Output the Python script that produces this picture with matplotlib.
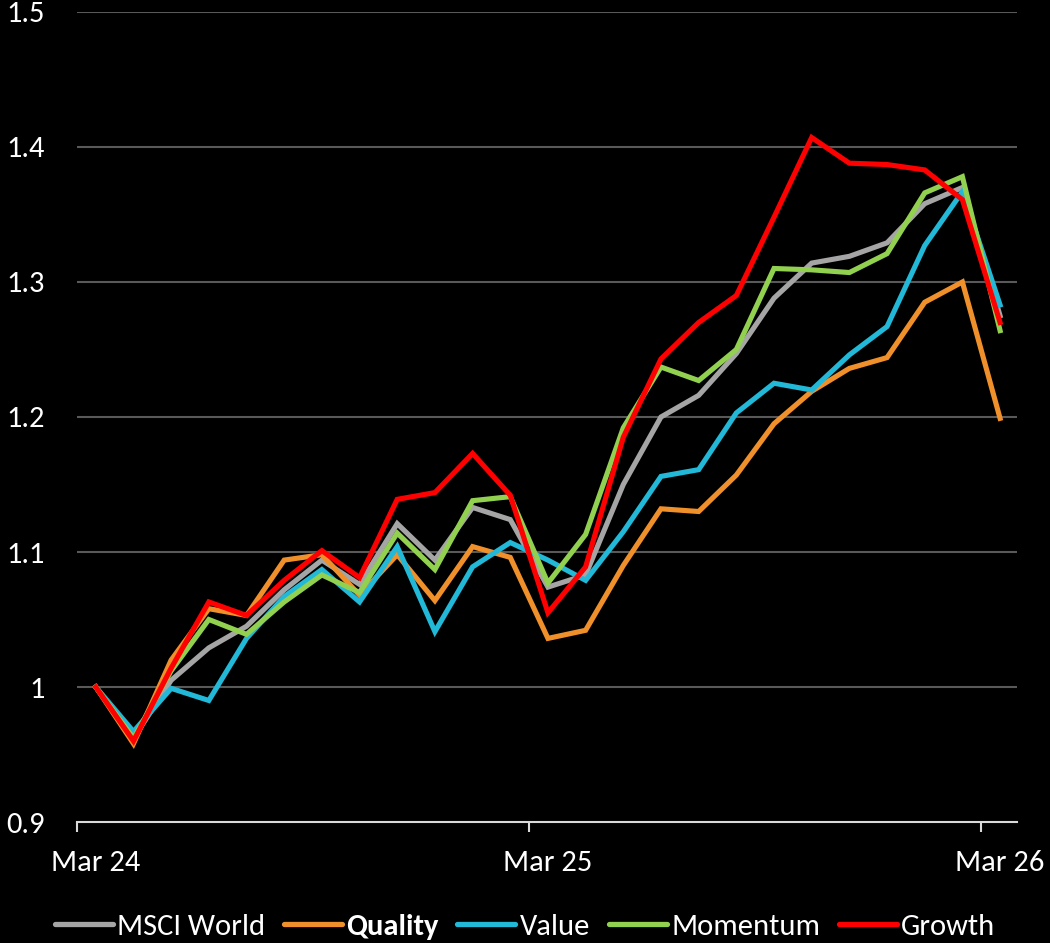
import matplotlib.pyplot as plt
from matplotlib.lines import Line2D

# indice mensal, Mar 24 a Mar 26 (base 1 = Mar 24)
meses = list(range(25))
rotulos_x = ["Mar 24", "Mar 25", "Mar 26"]
pos_rotulos = [0, 12, 24]
pos_marcas = [-0.5, 11.5, 23.5]

msci_world = [1.000, 0.962, 1.005, 1.029, 1.045, 1.072, 1.094, 1.076, 1.121, 1.094, 1.133, 1.124,
              1.074, 1.083, 1.150, 1.200, 1.216, 1.247, 1.288, 1.314, 1.319, 1.329, 1.358, 1.370, 1.275]
quality = [1.000, 0.958, 1.020, 1.058, 1.053, 1.094, 1.098, 1.068, 1.098, 1.064, 1.104, 1.096,
           1.036, 1.042, 1.090, 1.132, 1.130, 1.157, 1.195, 1.219, 1.236, 1.244, 1.285, 1.300, 1.199]
value = [1.000, 0.967, 0.999, 0.990, 1.036, 1.067, 1.087, 1.063, 1.104, 1.041, 1.089, 1.107,
         1.094, 1.079, 1.115, 1.156, 1.161, 1.203, 1.225, 1.220, 1.246, 1.267, 1.327, 1.367, 1.283]
momentum = [1.000, 0.962, 1.012, 1.050, 1.039, 1.063, 1.083, 1.070, 1.114, 1.087, 1.138, 1.141,
            1.077, 1.113, 1.192, 1.237, 1.227, 1.250, 1.310, 1.309, 1.307, 1.321, 1.366, 1.378, 1.264]
growth = [1.000, 0.960, 1.014, 1.063, 1.053, 1.079, 1.101, 1.081, 1.139, 1.144, 1.173, 1.142,
          1.055, 1.089, 1.185, 1.243, 1.270, 1.290, 1.348, 1.407, 1.388, 1.387, 1.383, 1.361, 1.270]

nomes = ["MSCI World", "Quality", "Value", "Momentum", "Growth"]
series = [msci_world, quality, value, momentum, growth]
cores = ["#A5A5A5", "#F0902A", "#22B8D8", "#92D050", "#FF0000"]

plt.rcParams['font.family'] = ['Carlito', 'Liberation Sans', 'DejaVu Sans']

fig = plt.figure(figsize=(10.5, 9.43), dpi=100, facecolor="black")
ax = fig.add_axes([0.0733, 0.1283, 0.8953, 0.859], facecolor="black")

for s, c in zip(series, cores):
    ax.plot(meses, s, color=c, linewidth=3.7, solid_joinstyle="miter")

ax.set_xlim(-0.5, 24.45)
ax.set_ylim(0.9, 1.5)
ax.set_yticks([0.9, 1.0, 1.1, 1.2, 1.3, 1.4, 1.5])
ax.set_yticklabels(["0.9", "1", "1.1", "1.2", "1.3", "1.4", "1.5"])

# marcas no inicio de cada ano, rotulos sobre o ponto do mes
ax.set_xticks(pos_marcas)
ax.set_xticklabels([])
ax.set_xticks(pos_rotulos, minor=True)
ax.set_xticklabels(rotulos_x, minor=True)

# linhas de grade horizontais
for y in [1.0, 1.1, 1.2, 1.3, 1.4, 1.5]:
    ax.axhline(y, color="#595959", linewidth=1.5, zorder=0)

for lado in ["top", "right", "left"]:
    ax.spines[lado].set_visible(False)
ax.spines["bottom"].set_color("#D9D9D9")
ax.spines["bottom"].set_linewidth(1.5)

ax.tick_params(axis="y", length=0, pad=23, labelsize=22, labelcolor="white")
ax.tick_params(axis="x", which="major", length=7, width=1.5, color="#D9D9D9")
ax.tick_params(axis="x", which="minor", length=0, pad=20, labelsize=22, labelcolor="white")

# legenda embaixo, com "Quality" em negrito
handles = [Line2D([0], [0], color=c, linewidth=3.8, solid_capstyle="round") for c in cores]
leg = fig.legend(handles, nomes, loc="lower center", bbox_to_anchor=(0.5, -0.026), ncol=5,
                 frameon=False, fontsize=22, handlelength=1.9, handletextpad=0.15, columnspacing=0.6)
for t in leg.get_texts():
    t.set_color("white")
    if t.get_text() == "Quality":
        t.set_fontweight("bold")

fig.savefig("out.png", dpi=100, facecolor="black")
